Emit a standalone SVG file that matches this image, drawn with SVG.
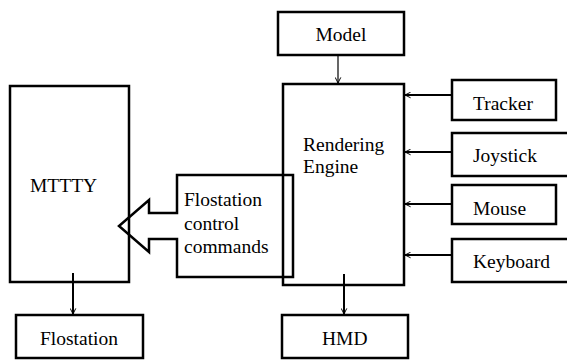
<svg xmlns="http://www.w3.org/2000/svg" width="567" height="360" viewBox="0 0 567 360">
  <style>
    .box { fill: none; stroke: #000; stroke-width: 2.5; }
    .lbl { font-family: "Liberation Serif", "Times New Roman", serif; font-size: 19.5px; fill: #000; }
    .wire { fill: none; stroke: #000; stroke-width: 2; }
    .thin { fill: none; stroke: #000; stroke-width: 1.2; }
    .big { fill: none; stroke: #000; stroke-width: 2.5; stroke-linejoin: miter; }
  </style>
  <defs>
    <marker id="head" viewBox="0 0 10 10" refX="9" refY="5" markerWidth="7" markerHeight="7" markerUnits="userSpaceOnUse" orient="auto">
      <path d="M1,1 L9,5 L1,9" fill="none" stroke="#000" stroke-width="1.4"/>
    </marker>
  </defs>

  <rect width="567" height="360" fill="#fff"/>

  <g id="model">
    <rect class="box" x="278" y="12" width="126" height="43"/>
    <text class="lbl" x="341" y="41" text-anchor="middle">Model</text>
  </g>

  <g id="rendering-engine">
    <rect class="box" x="283" y="84" width="121" height="201"/>
    <text class="lbl" x="303" y="151">Rendering</text>
    <text class="lbl" x="303" y="173">Engine</text>
  </g>

  <g id="tracker">
    <rect class="box" x="452" y="80" width="104" height="40"/>
    <text class="lbl" x="473" y="110">Tracker</text>
  </g>

  <g id="joystick">
    <rect class="box" x="452" y="133" width="120" height="43"/>
    <text class="lbl" x="473" y="162">Joystick</text>
  </g>

  <g id="mouse">
    <rect class="box" x="452" y="185" width="104" height="39"/>
    <text class="lbl" x="473" y="215">Mouse</text>
  </g>

  <g id="keyboard">
    <rect class="box" x="452" y="239" width="120" height="43"/>
    <text class="lbl" x="473" y="268">Keyboard</text>
  </g>

  <g id="mttty">
    <rect class="box" x="10" y="86" width="119" height="196"/>
    <text class="lbl" x="30" y="192">MTTTY</text>
  </g>

  <g id="flostation">
    <rect class="box" x="16" y="315" width="127" height="43"/>
    <text class="lbl" x="40" y="345">Flostation</text>
  </g>

  <g id="hmd">
    <rect class="box" x="282" y="315" width="126" height="43"/>
    <text class="lbl" x="322" y="345">HMD</text>
  </g>

  <g id="control-commands">
    <polygon class="big" points="177,175 293,175 293,277 177,277 177,239 149,239 149,252 119,226 149,200 149,213 177,213"/>
    <text class="lbl" x="184" y="206">Flostation</text>
    <text class="lbl" x="184" y="230">control</text>
    <text class="lbl" x="184" y="253">commands</text>
  </g>

  <g id="connectors">
    <line class="thin" x1="338" y1="55" x2="338" y2="83" marker-end="url(#head)"/>
    <line class="wire" x1="452" y1="95" x2="405" y2="95" marker-end="url(#head)"/>
    <line class="wire" x1="452" y1="152" x2="405" y2="152" marker-end="url(#head)"/>
    <line class="wire" x1="452" y1="204" x2="405" y2="204" marker-end="url(#head)"/>
    <line class="wire" x1="452" y1="255" x2="405" y2="255" marker-end="url(#head)"/>
    <line class="wire" x1="73" y1="273" x2="73" y2="314" marker-end="url(#head)"/>
    <line class="wire" x1="344" y1="274" x2="344" y2="314" marker-end="url(#head)"/>
  </g>
</svg>
